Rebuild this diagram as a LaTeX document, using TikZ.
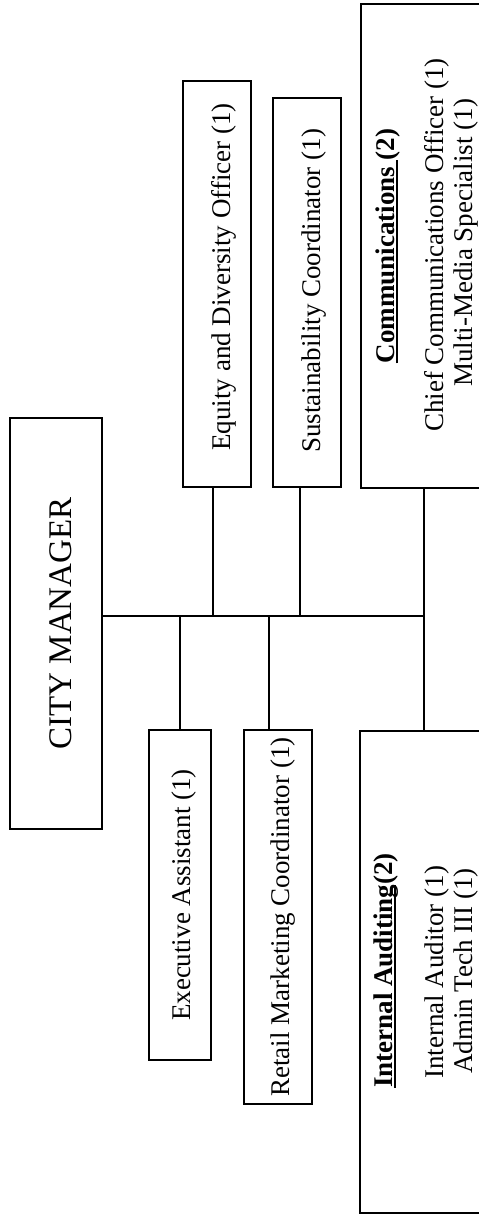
\documentclass[tikz,border=0pt]{standalone}
\usepackage{fontspec}
\setmainfont{Liberation Serif}
\newcommand{\myul}[1]{\setbox0\hbox{#1}\rlap{\rule[-4pt]{\wd0}{1.6pt}}\box0}
\tikzset{
  boxstyle/.style={draw, line width=2.6pt},
  conn/.style={line width=2.8pt},
  lbl/.style={rotate=90, inner sep=0pt, font=\fontsize{27}{32}\selectfont},
  biglbl/.style={rotate=90, inner sep=0pt, font=\fontsize{33}{38}\selectfont},
}
\begin{document}
\begin{tikzpicture}[x=1pt,y=-1pt]
\useasboundingbox (0,0) rectangle (479,1215);
\clip (0,0) rectangle (479,1215);
% boxes
\node[boxstyle, minimum width=92pt, minimum height=411pt, inner sep=0pt] (cm) at (56,623.5) {};
\node[boxstyle, minimum width=68pt, minimum height=406pt, inner sep=0pt] (eq) at (217,284) {};
\node[boxstyle, minimum width=68pt, minimum height=389pt, inner sep=0pt] (su) at (307,292.5) {};
\node[boxstyle, minimum width=140pt, minimum height=484pt, inner sep=0pt] (co) at (431,246) {};
\node[boxstyle, minimum width=62pt, minimum height=330pt, inner sep=0pt] (ex) at (180,895) {};
\node[boxstyle, minimum width=68pt, minimum height=374pt, inner sep=0pt] (re) at (278,917) {};
\node[boxstyle, minimum width=140pt, minimum height=482pt, inner sep=0pt] (ia) at (430,972) {};
% texts
\node[biglbl, anchor=base] (cmt) at (71,623.5) {CITY MANAGER};
\node[lbl, anchor=base] (eqt) at (230,277) {Equity and Diversity Officer (1)};
\node[lbl, anchor=base] (sut) at (320,291) {Sustainability Coordinator (1)};
\node[lbl, anchor=base] (ext) at (190,895) {Executive Assistant (1)};
\node[lbl, anchor=base] (ret) at (289,917) {Retail Marketing Coordinator (1)};
\node[lbl, anchor=base] (cot1) at (394,246) {\bfseries\myul{Communications\ }(2)};
\node[lbl, anchor=base] (cot2) at (443,245) {Chief Communications Officer (1)};
\node[lbl, anchor=base] (cot3) at (472,243) {Multi-Media Specialist (1)};
\node[lbl, anchor=base west] (iat1) at (392,1088) {\bfseries\myul{Internal Auditing}(2)};
\node[lbl, anchor=base west] (iat2) at (443,1079) {Internal Auditor (1)};
\node[lbl, anchor=base west] (iat3) at (472,1074) {Admin Tech III (1)};
% connectors
\coordinate (tr) at (424,616);
\coordinate (teq) at (213,616);
\coordinate (tsu) at (300,616);
\coordinate (tex) at (180,616);
\coordinate (tre) at (269,616);
\draw[conn] (cm.east |- tr) -- (tr);
\draw[conn] (teq) -- (teq |- eq.south);
\draw[conn] (tsu) -- (tsu |- su.south);
\draw[conn] (tex) -- (tex |- ex.north);
\draw[conn] (tre) -- (tre |- re.north);
\draw[conn] (tr |- co.south) -- (tr |- ia.north);
\end{tikzpicture}
\end{document}
